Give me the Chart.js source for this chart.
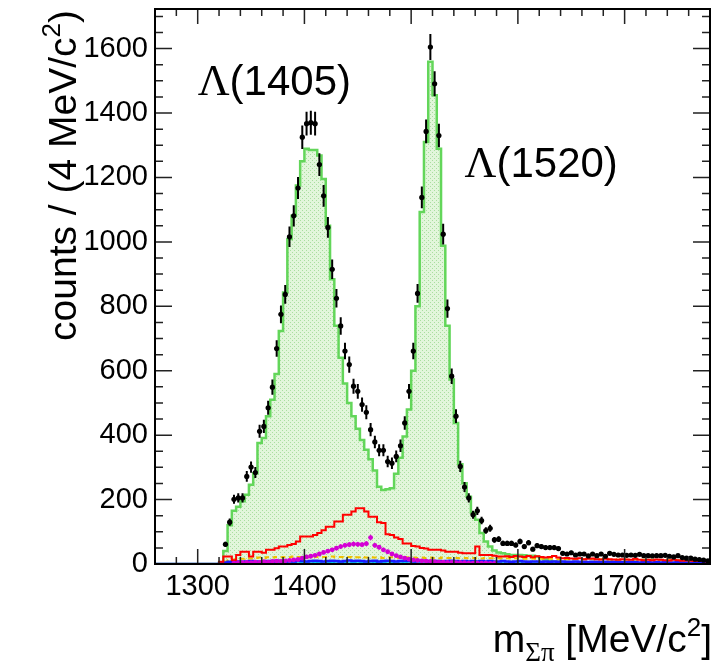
<!DOCTYPE html>
<html>
<head>
<meta charset="utf-8">
<script src="https://cdn.jsdelivr.net/npm/chart.js@4.4.0/dist/chart.umd.min.js"></script>
<style>
  html, body { margin: 0; padding: 0; background: #fff; }
  #wrap { width: 714px; height: 667px; }
</style>
</head>
<body>
<div id="wrap"><canvas id="massChart" width="714" height="667"></canvas></div>
<script>
// 130 bins of 4 MeV/c^2, from 1260 to 1780
const binStart = 1260;
const binWidth = 4;
const xTicks = [1300, 1400, 1500, 1600, 1700];
const yTicks = [0, 200, 400, 600, 800, 1000, 1200, 1400, 1600];

// measured counts (black points)
const dataCounts = [
  null, null, null, null, null, null, null, null, null, null,
  null, null, null, null, null, null, 61, 130, 201, 205,
  205, 272, 301, 284, 412, 427, 485, 549, 669, 775,
  837, 1016, 1081, 1167, 1325, 1367, 1370, 1367, 1240, 1143,
  1045, 915, 825, 739, 661, 619, 552, 536, 495, 471,
  417, 379, 353, 353, 318, 313, 334, 367, 438, 536,
  661, 840, 1138, 1343, 1605, 1491, 1330, 1024, 793, 583,
  459, 303, 239, 205, 153, 165, 135, 104, 111, 75,
  77, 64, 64, 64, 59, 70, 54, 66, 46, 57,
  54, 51, 51, 51, 48, 33, 31, 35, 28, 31,
  31, 25, 31, 26, 31, 24, 33, 30, 28, 28,
  27, 28, 27, 30, 26, 26, 25, 26, 26, 27,
  24, 22, 26, 20, 18, 18, 15, 14, 12, 10
];

// green filled histogram
const fitTotal = [
  0, 0, 0, 0, 0, 0, 0, 0, 0, 0,
  0, 0, 0, 0, 0, 5, 40, 120, 165, 178,
  195, 215, 246, 282, 376, 391, 459, 510, 590, 723,
  843, 1009, 1081, 1175, 1250, 1289, 1285, 1285, 1268, 1195,
  1050, 884, 740, 640, 560, 500, 459, 420, 385, 355,
  325, 290, 240, 230, 232, 235, 280, 330, 396, 480,
  600, 800, 1093, 1310, 1559, 1455, 1289, 988, 740, 573,
  438, 310, 251, 209, 160, 137, 96, 70, 54, 42,
  36, 33, 30, 28, 28, 28, 27, 26, 26, 23,
  18, 14, 10, 8, 7, 6, 6, 5, 5, 5,
  4, 4, 4, 4, 3, 3, 3, 3, 3, 3,
  3, 3, 2, 2, 2, 2, 2, 2, 2, 2,
  2, 2, 2, 2, 1, 1, 1, 1, 1, 1
];

// red histogram
const bkgRed = [
  0, 0, 0, 0, 0, 0, 0, 0, 0, 0,
  0, 0, 0, 0, 0, 7, 23, 23, 12, 28,
  38, 38, 23, 38, 38, 35, 44, 44, 49, 54,
  54, 59, 62, 70, 85, 85, 85, 90, 96, 105,
  116, 116, 132, 132, 153, 153, 163, 173, 173, 163,
  147, 147, 130, 127, 92, 90, 82, 78, 64, 64,
  56, 54, 50, 48, 44, 44, 44, 42, 38, 38,
  38, 35, 33, 33, 33, 54, 28, 28, 28, 26,
  23, 23, 24, 22, 25, 23, 22, 25, 21, 24,
  22, 20, 22, 25, 20, 18, 19, 17, 16, 18,
  15, 16, 17, 15, 14, 16, 15, 14, 13, 15,
  14, 13, 16, 13, 12, 13, 12, 14, 13, 12,
  11, 13, 12, 10, 11, 10, 9, 10, 9, 8
];

// magenta points
const bkgMagenta = [
  null, null, null, null, null, null, null, null, null, null,
  null, null, null, null, null, null, null, null, 3, 4,
  4, 5, 4, 6, 5, 7, 6, 8, 9, 8,
  10, 11, 13, 14, 18, 22, 24, 27, 31, 36,
  40, 44, 49, 54, 58, 60, 62, 61, 60, 63,
  82, 58, 52, 44, 38, 31, 26, 22, 18, 15,
  13, 11, 10, 9, 8, 7, 6, 6, 5, 5,
  4, 4, 4, 3, 3, 3, 3, 3, 2, 2,
  null, null, null, null, null, null, null, null, null, null,
  null, null, null, null, null, null, null, null, null, null,
  null, null, null, null, null, null, null, null, null, null,
  null, null, null, null, null, null, null, null, null, null,
  null, null, null, null, null, null, null, null, null, null
];

// yellow dashed histogram
const bkgYellow = [
  0, 0, 0, 0, 0, 0, 0, 0, 0, 0,
  0, 0, 0, 0, 0, 4, 8, 12, 14, 15,
  16, 18, 17, 19, 20, 19, 21, 20, 22, 21,
  22, 21, 23, 22, 22, 23, 21, 22, 23, 22,
  22, 23, 21, 22, 21, 22, 20, 21, 22, 20,
  21, 20, 21, 19, 20, 21, 20, 19, 21, 20,
  20, 19, 20, 19, 20, 19, 18, 20, 19, 19,
  19, 18, 19, 18, 19, 18, 17, 19, 18, 18,
  18, 17, 18, 17, 18, 17, 16, 17, 17, 16,
  17, 16, 17, 16, 15, 16, 15, 16, 15, 15,
  15, 14, 15, 14, 15, 14, 13, 14, 13, 14,
  13, 14, 13, 12, 13, 12, 13, 12, 12, 13,
  12, 11, 12, 11, 12, 11, 10, 11, 10, 10
];

// blue histogram
const bkgBlue = [
  0, 0, 0, 0, 0, 0, 0, 0, 0, 0,
  0, 0, 0, 0, 0, 2, 5, 7, 8, 8,
  7, 8, 9, 8, 7, 8, 9, 8, 10, 9,
  8, 9, 8, 10, 9, 8, 9, 10, 9, 8,
  9, 10, 9, 8, 9, 11, 9, 10, 9, 8,
  9, 10, 8, 9, 10, 9, 8, 9, 10, 9,
  8, 9, 10, 9, 8, 9, 9, 8, 9, 10,
  9, 8, 9, 8, 9, 8, 9, 8, 9, 8,
  8, 9, 8, 7, 8, 9, 8, 7, 8, 8,
  7, 8, 7, 8, 7, 8, 7, 7, 8, 7,
  7, 6, 7, 7, 6, 7, 6, 7, 6, 6,
  6, 7, 6, 5, 6, 6, 5, 6, 5, 6,
  5, 5, 6, 5, 5, 4, 5, 5, 4, 4
];

// cyan histogram
const bkgCyan = [
  0, 0, 0, 0, 0, 0, 0, 0, 0, 0,
  0, 0, 0, 0, 0, 1, 2, 3, 3, 3,
  3, 4, 3, 3, 4, 3, 4, 3, 4, 4,
  3, 4, 4, 3, 4, 4, 3, 4, 4, 3,
  4, 4, 3, 4, 4, 3, 4, 3, 4, 4,
  3, 4, 3, 4, 3, 4, 3, 3, 4, 3,
  3, 4, 3, 3, 4, 3, 3, 4, 3, 3,
  3, 3, 4, 3, 3, 3, 3, 3, 3, 3,
  3, 3, 3, 3, 3, 3, 3, 3, 3, 3,
  3, 3, 3, 2, 3, 3, 2, 3, 3, 2,
  3, 2, 3, 2, 2, 3, 2, 2, 2, 2,
  2, 2, 2, 2, 2, 2, 2, 2, 2, 2,
  2, 2, 2, 2, 2, 2, 2, 2, 2, 2
];

// step histogram: a point at every lower bin edge plus the last upper edge
function histPoints(values) {
  const pts = values.map((v, i) => ({ x: binStart + i * binWidth, y: v }));
  pts.push({ x: binStart + values.length * binWidth, y: values[values.length - 1] });
  return pts;
}

function centerPoints(values) {
  return values.map((v, i) => ({ x: binStart + (i + 0.5) * binWidth, y: v }));
}

function dotPattern() {
  const c = document.createElement('canvas');
  c.width = 4; c.height = 4;
  const g = c.getContext('2d');
  g.fillStyle = 'rgb(226,246,219)';
  g.fillRect(0, 0, 4, 4);
  g.fillStyle = 'rgb(170,222,160)';
  g.fillRect(0, 0, 1, 1);
  g.fillRect(2, 2, 1, 1);
  return g.createPattern(c, 'repeat');
}

// draws a row of text pieces (font / vertical shift each) from x, or ending at x
function drawParts(ctx, parts, x, y, align) {
  let total = 0;
  parts.forEach(p => { ctx.font = p.font; total += ctx.measureText(p.text).width; });
  let cx = align === 'right' ? x - total : x;
  parts.forEach(p => {
    ctx.font = p.font;
    ctx.fillText(p.text, cx, y + (p.dy || 0));
    cx += ctx.measureText(p.text).width;
  });
}

const errorBars = {
  id: 'errorBars',
  afterDatasetDraw(chart, args) {
    const ds = chart.data.datasets[args.index];
    if (!ds.errColor) return;
    const { ctx, scales: { x, y } } = chart;
    ctx.save();
    ctx.strokeStyle = ds.errColor;
    ctx.lineWidth = ds.errWidth;
    ctx.beginPath();
    ds.data.forEach(p => {
      if (p.y === null) return;
      const e = Math.sqrt(p.y);
      const px = x.getPixelForValue(p.x);
      ctx.moveTo(px, y.getPixelForValue(p.y - e));
      ctx.lineTo(px, y.getPixelForValue(p.y + e));
      const py = y.getPixelForValue(p.y);
      ctx.moveTo(x.getPixelForValue(p.x - binWidth / 2), py);
      ctx.lineTo(x.getPixelForValue(p.x + binWidth / 2), py);
    });
    ctx.stroke();
    ctx.restore();
  }
};

const frameTicks = {
  id: 'frameTicks',
  afterDraw(chart) {
    const { ctx, chartArea: a, scales: { x, y } } = chart;
    ctx.save();
    ctx.strokeStyle = '#222';
    ctx.lineWidth = 1.5;
    ctx.beginPath();
    for (let m = x.min; m <= x.max; m += 20) {
      const px = x.getPixelForValue(m);
      const len = m % 100 === 0 ? 15 : 7;
      ctx.moveTo(px, a.bottom); ctx.lineTo(px, a.bottom - len);
      ctx.moveTo(px, a.top); ctx.lineTo(px, a.top + len);
    }
    for (let v = 0; v <= y.max; v += 50) {
      const py = y.getPixelForValue(v);
      const len = v % 200 === 0 ? 17 : 8;
      ctx.moveTo(a.left, py); ctx.lineTo(a.left + len, py);
      ctx.moveTo(a.right, py); ctx.lineTo(a.right - len, py);
    }
    ctx.stroke();
    ctx.strokeStyle = '#000';
    ctx.lineWidth = 2;
    ctx.strokeRect(a.left, a.top, a.right - a.left, a.bottom - a.top);
    ctx.restore();
  }
};

const texts = {
  id: 'texts',
  afterDraw(chart) {
    const { ctx, scales: { x, y } } = chart;
    ctx.save();
    ctx.fillStyle = '#000';
    ctx.textAlign = 'left';
    ctx.textBaseline = 'alphabetic';
    drawParts(ctx, [
      { text: 'Λ', font: '44px "Liberation Serif"' },
      { text: '(1405)', font: '42px "Liberation Sans"' }
    ], x.getPixelForValue(1300), y.getPixelForValue(1455));
    drawParts(ctx, [
      { text: 'Λ', font: '44px "Liberation Serif"' },
      { text: '(1520)', font: '42px "Liberation Sans"' }
    ], x.getPixelForValue(1550), y.getPixelForValue(1200));

    drawParts(ctx, [
      { text: 'm', font: '39px "Liberation Sans"' },
      { text: 'Σπ', font: '27px "Liberation Serif"', dy: 9 },
      { text: ' [MeV/c', font: '39px "Liberation Sans"' },
      { text: '2', font: '26px "Liberation Sans"', dy: -16 },
      { text: ']', font: '39px "Liberation Sans"' }
    ], 712, 652, 'right');

    ctx.translate(76, 10);
    ctx.rotate(-Math.PI / 2);
    drawParts(ctx, [
      { text: 'counts / (4 MeV/c', font: '39px "Liberation Sans"' },
      { text: '2', font: '26px "Liberation Sans"', dy: -16 },
      { text: ')', font: '39px "Liberation Sans"' }
    ], 0, 0, 'right');
    ctx.restore();
  }
};

const tickFont = { family: 'Liberation Sans', size: 29 };

new Chart(document.getElementById('massChart'), {
  type: 'line',
  data: {
    datasets: [
      {
        label: 'data',
        data: centerPoints(dataCounts),
        showLine: false,
        pointRadius: 2.6,
        pointBackgroundColor: '#000',
        pointBorderWidth: 0,
        errColor: '#000',
        errWidth: 2,
        order: 0
      },
      {
        label: 'magenta',
        data: centerPoints(bkgMagenta),
        showLine: false,
        pointRadius: 2.4,
        pointBackgroundColor: '#d400d4',
        pointBorderWidth: 0,
        errColor: '#d400d4',
        errWidth: 1,
        order: 1
      },
      {
        label: 'red',
        data: histPoints(bkgRed),
        stepped: true,
        borderColor: '#ff0000',
        borderWidth: 2,
        pointRadius: 0,
        fill: false,
        order: 2
      },
      {
        label: 'blue',
        data: histPoints(bkgBlue),
        stepped: true,
        borderColor: '#1a1aff',
        borderWidth: 2.5,
        pointRadius: 0,
        fill: false,
        order: 3
      },
      {
        label: 'yellow',
        data: histPoints(bkgYellow),
        stepped: true,
        borderColor: '#f0c000',
        borderWidth: 2,
        borderDash: [5, 4],
        pointRadius: 0,
        fill: false,
        order: 4
      },
      {
        label: 'cyan',
        data: histPoints(bkgCyan),
        stepped: true,
        borderColor: '#00c8e8',
        borderWidth: 1.5,
        pointRadius: 0,
        fill: false,
        order: 5
      },
      {
        label: 'green',
        data: histPoints(fitTotal),
        stepped: true,
        borderColor: '#63d65a',
        borderWidth: 2.5,
        backgroundColor: dotPattern(),
        pointRadius: 0,
        fill: 'origin',
        order: 10
      }
    ]
  },
  options: {
    responsive: false,
    devicePixelRatio: 1,
    animation: false,
    layout: { padding: { top: 9, right: 2, left: 0, bottom: 0 } },
    plugins: { legend: { display: false }, tooltip: { enabled: false } },
    scales: {
      x: {
        type: 'linear',
        min: binStart,
        max: 1780,
        afterBuildTicks: s => { s.ticks = xTicks.map(v => ({ value: v })); },
        afterFit: s => { s.height = 103; s.paddingLeft = 0; s.paddingRight = 0; },
        grid: { display: false, drawTicks: false },
        border: { display: false },
        ticks: { font: tickFont, color: '#000', padding: 6, maxRotation: 0, autoSkip: false, callback: v => String(v) }
      },
      y: {
        type: 'linear',
        min: 0,
        max: 1723,
        afterBuildTicks: s => { s.ticks = yTicks.map(v => ({ value: v })); },
        afterFit: s => { s.width = 155; s.paddingTop = 0; s.paddingBottom = 0; },
        grid: { display: false, drawTicks: false },
        border: { display: false },
        ticks: { font: tickFont, color: '#000', padding: 7, autoSkip: false, callback: v => String(v) }
      }
    }
  },
  plugins: [errorBars, frameTicks, texts]
});
</script>
</body>
</html>
